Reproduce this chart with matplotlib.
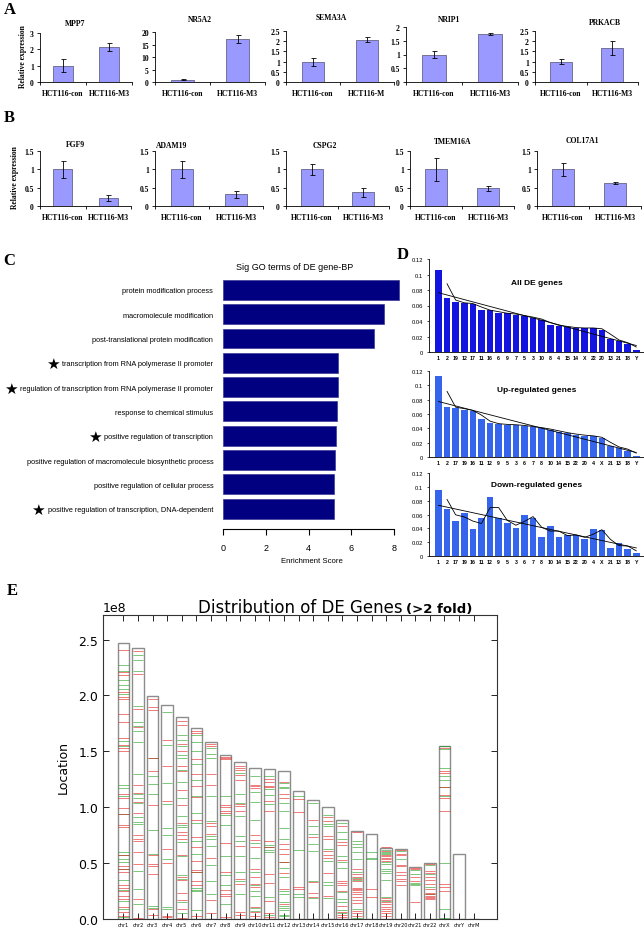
import numpy as np
import matplotlib
matplotlib.use('Agg')
import matplotlib.pyplot as plt

W, H = 644, 929

# ---------------- data ----------------
groups = ['HCT116-con', 'HCT116-M3']

up_genes = ['MPP7', 'NR5A2', 'SEMA3A', 'NRIP1', 'PRKACB']
up_con = [1.0, 1.0, 1.0, 1.0, 1.0]
up_m3 = [2.15, 17.3, 2.07, 1.76, 1.68]
up_con_err = [0.38, 0.2, 0.2, 0.12, 0.12]
up_m3_err = [0.23, 1.65, 0.12, 0.04, 0.35]
up_ymax = [3, 20, 2.5, 2, 2.5]
up_ystep = [1, 5, 0.5, 0.5, 0.5]

down_genes = ['FGF9', 'ADAM19', 'CSPG2', 'TMEM16A', 'COL17A1']
down_con = [1.0, 1.0, 1.0, 1.0, 1.0]
down_m3 = [0.22, 0.32, 0.37, 0.48, 0.63]
down_con_err = [0.23, 0.24, 0.15, 0.31, 0.18]
down_m3_err = [0.09, 0.1, 0.13, 0.07, 0.03]

go_terms = ['protein modification process',
            'macromolecule modification',
            'post-translational protein modification',
            'transcription from RNA polymerase II promoter',
            'regulation of transcription from RNA polymerase II promoter',
            'response to chemical stimulus',
            'positive regulation of transcription',
            'positive regulation of macromolecule biosynthetic process',
            'positive regulation of cellular process',
            'positive regulation of transcription, DNA-dependent']
go_score = [8.24, 7.5, 7.05, 5.38, 5.37, 5.33, 5.3, 5.22, 5.19, 5.18]
go_star = [0, 0, 0, 1, 1, 0, 1, 0, 0, 1]

all_chr = ['1', '2', '19', '12', '17', '11', '16', '6', '9', '7', '5', '3',
           '10', '8', '4', '15', '14', 'X', '22', '20', '13', '21', '18', 'Y']
all_frac = [0.106, 0.070, 0.064, 0.063, 0.062, 0.054, 0.054, 0.050, 0.050,
            0.048, 0.046, 0.044, 0.041, 0.035, 0.034, 0.032, 0.031, 0.031,
            0.031, 0.029, 0.017, 0.014, 0.010, 0.003]
updown_chr = ['1', '2', '17', '19', '16', '11', '12', '9', '5', '3', '6', '7',
              '8', '10', '14', '15', '22', '20', '4', 'X', '21', '13', '18', 'Y']
up_frac = [0.113, 0.070, 0.069, 0.066, 0.064, 0.053, 0.047, 0.046, 0.045,
           0.045, 0.043, 0.042, 0.040, 0.038, 0.035, 0.033, 0.031, 0.030,
           0.029, 0.026, 0.015, 0.013, 0.009, 0.002]
down_frac = [0.0955, 0.068, 0.051, 0.062, 0.039, 0.055, 0.085, 0.055, 0.048,
             0.041, 0.059, 0.055, 0.028, 0.044, 0.028, 0.031, 0.030, 0.024,
             0.039, 0.037, 0.011, 0.019, 0.010, 0.005]

chroms = ['chr%d' % i for i in range(1, 23)] + ['chrX', 'chrY', 'chrM']
chr_len_mb = [247.2, 242.9, 199.5, 191.3, 180.9, 170.9, 158.8, 146.3, 140.3,
              135.4, 134.5, 132.3, 114.1, 106.4, 100.3, 88.8, 78.8, 76.1,
              63.8, 62.4, 46.9, 49.7, 154.9, 57.8, 0.02]
# gene positions (Mb) drawn as red / green ticks on each chromosome
red_mb = [
    [241, 221, 218, 203, 199, 197, 183, 176, 162, 156, 153, 150, 112, 108, 99, 94, 84, 82, 57, 47, 45, 42, 30, 28, 25, 21, 18, 11, 6, 3],
    [240, 219, 188, 172, 120, 113, 105, 95, 75, 72, 70, 60, 49, 18, 1],
    [197, 190, 187, 144, 132, 102, 57, 49, 47, 40, 9, 4],
    [160, 137, 106, 63, 50, 3, 2],
    [177, 174, 157, 150, 137, 132, 115, 102, 86, 78, 75, 72, 57, 38, 35, 23, 17, 9, 1],
    [168, 166, 143, 130, 119, 109, 89, 73, 64, 52, 44, 42, 34, 30, 3],
    [157, 155, 130, 120, 86, 83, 76, 55, 17, 5],
    [145, 144, 143, 102, 100, 97, 95, 68, 42, 26, 22, 21, 2],
    [137, 135, 133, 129, 124, 103, 101, 97, 65, 36, 31, 6, 4],
    [120, 119, 117, 75, 71, 64, 45, 38, 31, 29, 11, 6, 3],
    [125, 123, 119, 118, 106, 97, 70, 64, 40, 32, 16, 5, 2],
    [123, 112, 108, 67, 63, 58, 51, 41, 27, 13],
    [107, 96, 29, 27],
    [89, 73, 33, 23, 20],
    [91, 88, 74, 72, 61, 57, 55, 41, 21],
    [83, 69, 66, 53, 34, 32, 30, 25, 12, 6, 4, 2],
    [78, 45, 40, 38, 36, 34, 28, 27, 26, 24, 22, 20, 17, 14, 7, 5, 3],
    [27, 20],
    [64, 61, 57, 56, 55, 54, 52, 19, 17, 15, 13, 11, 9, 7, 5, 3],
    [62, 58, 57, 48, 47, 42, 39, 36, 34, 30],
    [46, 45, 38, 34, 15],
    [49, 43, 41, 38, 35, 31, 27, 23, 22, 21, 20, 19, 18],
    [153, 132, 131, 118, 111, 108, 97, 31, 29, 25],
    [], []]
green_mb = [
    [227, 222, 214, 209, 206, 201, 159, 155, 120, 117, 110, 94, 60, 57, 54, 51, 45, 35, 26, 16, 9, 2],
    [236, 232, 222, 191, 176, 173, 168, 158, 130, 112, 108, 104, 91, 87, 85, 43, 27, 13],
    [144, 128, 121, 112, 80, 58, 12, 10],
    [185, 156, 122, 103, 81, 75, 54, 11, 9],
    [165, 160, 155, 147, 144, 133, 123, 108, 92, 84, 82, 69, 56, 39, 36, 15, 5],
    [165, 158, 150, 139, 124, 110, 95, 86, 70, 58, 42, 28, 26, 25, 8],
    [153, 148, 144, 110, 88, 74, 72, 65, 48, 34, 22],
    [110, 93, 84, 56, 39, 30, 13],
    [131, 112, 104, 92, 74, 70, 56, 42, 34, 22],
    [128, 114, 105, 89, 68, 55, 42, 30, 25, 21, 10, 7],
    [128, 116, 111, 103, 66, 64, 62, 60, 20, 4],
    [122, 118, 117, 104, 97, 81, 72, 51, 46, 38, 25, 22, 15, 12, 10, 8, 4, 3],
    [110, 62, 22, 20],
    [104, 83, 76, 67, 61, 34, 19],
    [93, 85, 83, 63, 52, 33, 30, 19],
    [86, 78, 72, 56, 51, 46, 24, 18, 15, 8, 5],
    [70, 67, 64, 60, 54, 42, 37, 35, 9, 1],
    [60, 55, 54],
    [62, 60, 59, 58, 51, 49, 45, 43, 41, 35, 20, 16],
    [61, 54],
    [44, 40, 32, 31, 30],
    [48, 40, 29, 22],
    [155, 152, 135, 128, 124, 118, 110, 50, 9, 1],
    [], []]

# ---------------- fonts ----------------
SERIF = 'Liberation Serif'
SANS = 'Liberation Sans'
plt.rcParams['font.family'] = ['DejaVu Sans']


def box(l, t, r, b):
    return [l / W, 1 - b / H, (r - l) / W, (b - t) / H]


def ftext(x, y, s, **kw):
    return fig.text(x / W, 1 - y / H, s, **kw)


fig = plt.figure(figsize=(W / 100, H / 100), dpi=100)

# ---------------- panels A and B ----------------
serif_b = dict(family=SERIF, fontweight='bold', fontsize=5.5)


def expr_chart(rect, con, m3, con_e, m3_e, ymax, ystep, xlabels):
    ax = fig.add_axes(box(*rect))
    x = np.array([0.5, 1.5])
    ax.bar(x, [con, m3], width=0.42, color='#9999ff', edgecolor='#505070',
           linewidth=0.5, yerr=[con_e, m3_e],
           error_kw=dict(ecolor='black', elinewidth=0.6, capsize=1.8, capthick=0.6))
    ax.set_xlim(0, 2)
    ax.set_ylim(0, ymax)
    ticks = np.arange(0, ymax + ystep / 2, ystep)
    ax.set_yticks(ticks)
    ax.set_yticklabels(['%g' % t for t in ticks], **serif_b)
    ax.set_xticks(x)
    ax.set_xticklabels(xlabels, **serif_b)
    ax.set_xticks([0, 1, 2], minor=True)
    ax.tick_params(axis='x', which='major', length=0, pad=5)
    ax.tick_params(axis='x', which='minor', length=2.5, width=0.6)
    ax.tick_params(axis='y', length=2.5, width=0.6, pad=2)
    for s in ['top', 'right']:
        ax.spines[s].set_visible(False)
    for s in ['left', 'bottom']:
        ax.spines[s].set_linewidth(0.6)
    return ax


a_lefts = [40, 155, 286, 406, 535]
a_rights = [132, 265, 394, 518, 638]
a_tops = [34, 33, 32, 28, 32]
a_title_x = [75, 200, 331, 449, 605]
a_title_y = [24, 20, 18, 20, 23]
for i in range(5):
    labs = list(groups)
    if up_genes[i] == 'SEMA3A':
        labs = ['HCT116-con', 'HCT116-M']
    expr_chart((a_lefts[i], a_tops[i], a_rights[i], 83), up_con[i], up_m3[i],
               up_con_err[i], up_m3_err[i], up_ymax[i], up_ystep[i], labs)
    ftext(a_title_x[i], a_title_y[i], up_genes[i], ha='center', va='center', **serif_b)

b_lefts = [40, 155, 286, 410, 537]
b_rights = [131, 263, 389, 514, 641]
b_title_x = [75, 172, 325, 453, 582]
b_title_y = [145, 146, 146, 142, 141]
for i in range(5):
    expr_chart((b_lefts[i], 152, b_rights[i], 207), down_con[i], down_m3[i],
               down_con_err[i], down_m3_err[i], 1.5, 0.5, groups)
    ftext(b_title_x[i], b_title_y[i], down_genes[i], ha='center', va='center', **serif_b)

ftext(23, 57, 'Relative expression', rotation=90, ha='center', va='center', **serif_b)
ftext(15, 178, 'Relative expression', rotation=90, ha='center', va='center', **serif_b)

panel = dict(family=SERIF, fontweight='bold', fontsize=12, ha='center', va='center')
ftext(10, 10, 'A', **panel)
ftext(9, 118, 'B', **panel)
ftext(9, 261, 'C', **panel)
ftext(403, 255, 'D', **panel)
ftext(12, 591, 'E', **panel)

# ---------------- panel C ----------------
axc = fig.add_axes(box(223, 280, 223 + 8.3 * 21.4, 530))
yc = np.arange(len(go_terms))
axc.barh(yc, go_score, height=0.82, color='#000080', edgecolor='#3a3a9a', linewidth=0.5)
axc.set_xlim(0, 8.3)
axc.set_ylim(9.84, -0.45)
axc.set_yticks(yc)
axc.set_yticklabels(go_terms, fontsize=5.3, family=SANS)
axc.tick_params(axis='y', length=0, pad=7)
axc.set_xticks([0, 2, 4, 6, 8])
axc.set_xticklabels(['0', '2', '4', '6', '8'], fontsize=6.5, family=SANS)
axc.tick_params(axis='x', length=4, width=0.8, pad=6)
for s in ['top', 'right', 'left']:
    axc.spines[s].set_visible(False)
axc.spines['bottom'].set_bounds(0, 8)
axc.spines['bottom'].set_linewidth(0.8)
axc.set_xlabel('Enrichment Score', fontsize=5.6, labelpad=4, family=SANS)
ftext(295, 268, 'Sig GO terms of DE gene-BP', ha='center', va='center',
      family=SANS, fontsize=6.5)

# ---------------- panel D ----------------


def dist_chart(rect, cats, vals, color, title, ty):
    ax = fig.add_axes(box(*rect))
    vals = np.array(vals)
    x = np.arange(len(vals))
    ax.bar(x, vals, width=0.78, color=color, edgecolor='none')
    ax.plot(x[1:], (vals[1:] + vals[:-1]) / 2, color='black', lw=0.6)
    p = np.polyfit(x, vals, 1)
    ax.plot(x, np.polyval(p, x), color='black', lw=0.6)
    ax.set_xlim(-1.1, 23.9)
    ax.set_ylim(0, 0.12)
    yt = [0, 0.02, 0.04, 0.06, 0.08, 0.1, 0.12]
    ax.set_yticks(yt)
    ax.set_yticklabels(['%g' % v for v in yt], family=SANS, fontsize=4.2)
    ax.set_xticks(x)
    ax.set_xticklabels(cats, family=SANS, fontsize=3.8, fontweight='bold')
    ax.tick_params(axis='x', length=0, pad=2.5)
    ax.tick_params(axis='y', length=1.5, width=0.5, pad=3)
    for s in ['top', 'right']:
        ax.spines[s].set_visible(False)
    for s in ['left', 'bottom']:
        ax.spines[s].set_linewidth(0.6)
    ax.text(0.5, ty, title, transform=ax.transAxes, ha='center', va='center',
            family=SANS, fontweight='bold', fontsize=6)
    return ax


dist_chart((429, 260, 644, 353), all_chr, all_frac, '#1414e0', 'All DE genes', 0.75)
dist_chart((429, 372, 644, 458), updown_chr, up_frac, '#3565ec', 'Up-regulated genes', 0.78)
dist_chart((429, 474, 644, 557), updown_chr, down_frac, '#3565ec', 'Down-regulated genes', 0.86)

# ---------------- panel E ----------------
axe = fig.add_axes(box(103, 616, 497, 920))
xs = np.arange(len(chroms)) + 1.0
axe.bar(xs, np.array(chr_len_mb) * 1e6, width=0.8, align='edge', color='white',
        edgecolor='#8c8c8c', linewidth=1.0, zorder=1)
for i in range(len(chroms)):
    if green_mb[i]:
        axe.hlines(np.array(green_mb[i]) * 1e6, xs[i] + 0.05, xs[i] + 0.75,
                   colors='#119911', alpha=0.55, lw=0.7, zorder=2)
    if red_mb[i]:
        axe.hlines(np.array(red_mb[i]) * 1e6, xs[i] + 0.05, xs[i] + 0.75,
                   colors='#e01010', alpha=0.55, lw=0.7, zorder=2)
axe.set_xlim(0, 27)
axe.set_ylim(0, 2.72e8)
axe.set_xticks(xs + 0.4)
axe.set_xticklabels(chroms, fontsize=3.6)
axe.set_yticks(np.arange(0, 2.51e8, 0.5e8))
axe.tick_params(direction='in', top=True, right=True, length=4, width=0.6)
axe.tick_params(axis='x', pad=2)
axe.tick_params(axis='y', labelsize=9)
axe.yaxis.get_offset_text().set_fontsize(9)
for s in axe.spines.values():
    s.set_linewidth(0.8)
    s.set_color('#333333')
axe.set_ylabel('Location', fontsize=9, labelpad=6)

t1 = ftext(300, 613, 'Distribution of DE Genes', ha='center', va='baseline', fontsize=12)

# stars and title tail need text extents
fig.canvas.draw()
rend = fig.canvas.get_renderer()
for lab, st in zip(axc.get_yticklabels(), go_star):
    if st:
        bb = lab.get_window_extent(rend)
        fig.text((bb.x0 - 3) / W, (bb.y0 + bb.y1) / 2 / H, '\u2605', ha='right',
                 va='center', fontsize=11, family='DejaVu Sans')
bb = t1.get_window_extent(rend)
fig.text((bb.x1 + 4) / W, 1 - 613 / H, '(>2 fold)', ha='left', va='baseline',
         fontsize=9.5, fontweight='bold')

fig.savefig('out.png', dpi=100)
